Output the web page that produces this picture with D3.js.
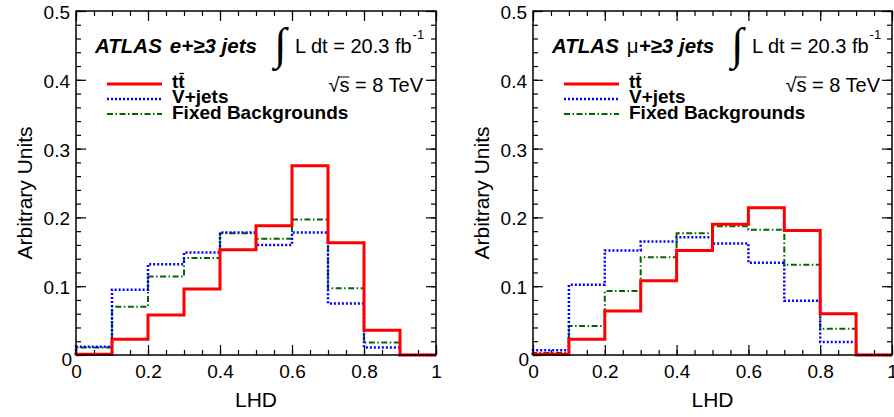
<!DOCTYPE html>
<html>
<head>
<meta charset="utf-8">
<script src="https://cdn.jsdelivr.net/npm/d3@7"></script>
<style>
	body { margin: 0; background: #ffffff; }
	svg { font-family: "Liberation Sans", Arial, Helvetica, sans-serif; }
</style>
</head>
<body>
<div id="container"></div>
<script>

// bin edges of the LHD histograms (10 bins)
var binEdges = [0, 0.1, 0.2, 0.3, 0.4, 0.5, 0.6, 0.7, 0.8, 0.9, 1.0];

// e + >=3 jets channel
var elTtbar = [0.001, 0.023, 0.058, 0.096, 0.153, 0.188, 0.275, 0.163, 0.036, 0.0];
var elVjets = [0.012, 0.095, 0.132, 0.149, 0.178, 0.160, 0.178, 0.075, 0.011, 0.0];
var elFixed = [0.011, 0.070, 0.114, 0.141, 0.177, 0.169, 0.197, 0.097, 0.018, 0.0];

// mu + >=3 jets channel
var muTtbar = [0.001, 0.023, 0.064, 0.108, 0.152, 0.190, 0.214, 0.181, 0.060, 0.0];
var muVjets = [0.007, 0.102, 0.152, 0.165, 0.171, 0.162, 0.134, 0.079, 0.019, 0.0];
var muFixed = [0.003, 0.042, 0.093, 0.142, 0.177, 0.187, 0.182, 0.131, 0.038, 0.0];

// tick labels
var xTickLabels = [0, 0.2, 0.4, 0.6, 0.8, 1];
var yTickLabels = [0, 0.1, 0.2, 0.3, 0.4, 0.5];

var legendNames = ["tt", "V+jets", "Fixed Backgrounds"];

var width = 894;
var height = 417;

var svg = d3.select("#container")
	.append("svg")
	.attr("width", width)
	.attr("height", height);

// draw one panel of the figure
function drawPanel(x0, x1, lepton, ttbar, vjets, fixed) {

	var top = 11;
	var bottom = 355;

	var scaleX = d3.scaleLinear()
		.domain([0, 1])
		.range([x0, x1]);
	var scaleY = d3.scaleLinear()
		.domain([0, 0.5])
		.range([bottom, top]);

	var fmt = d3.format("~g");

	// minor ticks first, major ticks with labels on top
	var minorX = d3.range(0, 1.0001, 0.05);
	var minorY = d3.range(0, 0.5001, 0.02);

	function styleAxis(g) {
		g.select(".domain").remove();
		g.selectAll("line").attr("stroke", "#000").attr("stroke-width", 1.2);
	}

	svg.append("g")
		.attr("transform", "translate(0," + bottom + ")")
		.call(d3.axisBottom(scaleX).tickValues(minorX).tickSizeInner(-5).tickSizeOuter(0).tickFormat(""))
		.call(styleAxis);
	svg.append("g")
		.attr("transform", "translate(0," + top + ")")
		.call(d3.axisTop(scaleX).tickValues(minorX).tickSizeInner(-5).tickSizeOuter(0).tickFormat(""))
		.call(styleAxis);
	svg.append("g")
		.attr("transform", "translate(0," + top + ")")
		.call(d3.axisTop(scaleX).tickValues(xTickLabels).tickSizeInner(-10).tickSizeOuter(0).tickFormat(""))
		.call(styleAxis);
	svg.append("g")
		.attr("transform", "translate(" + x0 + ",0)")
		.call(d3.axisLeft(scaleY).tickValues(minorY).tickSizeInner(-5).tickSizeOuter(0).tickFormat(""))
		.call(styleAxis);
	svg.append("g")
		.attr("transform", "translate(" + x1 + ",0)")
		.call(d3.axisRight(scaleY).tickValues(minorY).tickSizeInner(-5).tickSizeOuter(0).tickFormat(""))
		.call(styleAxis);
	svg.append("g")
		.attr("transform", "translate(" + x1 + ",0)")
		.call(d3.axisRight(scaleY).tickValues(yTickLabels).tickSizeInner(-10).tickSizeOuter(0).tickFormat(""))
		.call(styleAxis);

	// labelled axes
	var xAxis = svg.append("g")
		.attr("transform", "translate(0," + bottom + ")")
		.call(d3.axisBottom(scaleX).tickValues(xTickLabels).tickSizeInner(-10).tickSizeOuter(0).tickPadding(10).tickFormat(fmt))
		.call(styleAxis);
	xAxis.selectAll("text")
		.attr("font-family", null)
		.style("font-size", "19px")
		.attr("fill", "#000");

	var yAxis = svg.append("g")
		.attr("transform", "translate(" + x0 + ",0)")
		.call(d3.axisLeft(scaleY).tickValues(yTickLabels).tickSizeInner(-10).tickSizeOuter(0).tickPadding(6).tickFormat(fmt))
		.call(styleAxis);
	yAxis.selectAll("text")
		.attr("font-family", null)
		.style("font-size", "19px")
		.attr("fill", "#000")
		.attr("dy", "0.39em");
	// the zero label sits a bit lower, like in root
	yAxis.selectAll("text")
		.filter(function(d) { return d == 0; })
		.attr("x", -4)
		.attr("dy", "0.53em");

	// histograms as steps
	function stepPoints(values) {
		var pts = [[binEdges[0], 0]];
		for (var i = 0; i < values.length; i ++) {
			pts.push([binEdges[i], values[i]]);
		};
		pts.push([binEdges[binEdges.length - 1], values[values.length - 1]]);
		pts.push([binEdges[binEdges.length - 1], 0]);
		return pts;
	};

	var line = d3.line()
		.x(function(d) { return scaleX(d[0]); })
		.y(function(d) { return scaleY(d[1]); })
		.curve(d3.curveStepAfter);

	svg.append("path")
		.attr("d", line(stepPoints(fixed)))
		.attr("fill", "none")
		.attr("stroke", "#006600")
		.attr("stroke-width", 2)
		.attr("stroke-dasharray", "6,2.5,1.5,2.5");
	svg.append("path")
		.attr("d", line(stepPoints(vjets)))
		.attr("fill", "none")
		.attr("stroke", "#0000ff")
		.attr("stroke-width", 2.5)
		.attr("stroke-dasharray", "2,2");
	svg.append("path")
		.attr("d", line(stepPoints(ttbar)))
		.attr("fill", "none")
		.attr("stroke", "#ff0000")
		.attr("stroke-width", 3);

	// frame
	svg.append("rect")
		.attr("x", x0)
		.attr("y", top)
		.attr("width", x1 - x0)
		.attr("height", bottom - top)
		.attr("fill", "none")
		.attr("stroke", "#000")
		.attr("stroke-width", 1.5);

	// axis titles
	svg.append("text")
		.attr("x", (x0 + x1) / 2)
		.attr("y", 407)
		.style("text-anchor", "middle")
		.style("font-size", "21px")
		.text("LHD");
	svg.append("text")
		.attr("transform", "translate(" + (x0 - 44) + ",193) rotate(-90)")
		.style("text-anchor", "middle")
		.style("font-size", "21px")
		.text("Arbitrary Units");

	// ATLAS label and channel
	var atlas = svg.append("text")
		.attr("x", x0 + 19)
		.attr("y", 53)
		.style("font-size", "20.5px")
		.style("font-weight", "bold")
		.style("font-style", "italic");
	atlas.append("tspan").text("ATLAS");
	if (lepton == "e") {
		atlas.append("tspan").attr("dx", 8).text("e+≥3 jets");
	}
	else {
		atlas.append("tspan").attr("dx", 8)
			.style("font-weight", "normal").style("font-style", "normal")
			.text("μ");
		atlas.append("tspan").text("+≥3 jets");
	}

	// luminosity
	svg.append("text")
		.attr("x", x0 + 198)
		.attr("y", 59)
		.style("font-family", "'Liberation Serif', serif")
		.style("font-size", "45px")
		.text("∫");
	var lumi = svg.append("text")
		.attr("x", x0 + 219)
		.attr("y", 53)
		.style("font-size", "20px");
	lumi.append("tspan").text("L dt = 20.3 fb");
	lumi.append("tspan").attr("dy", -14).attr("dx", 1).style("font-size", "13px").text("-1");

	// sqrt(s)
	var sqrtText = svg.append("text")
		.attr("x", x0 + 347)
		.attr("y", 92)
		.style("font-size", "20px")
		.style("text-anchor", "end")
		.text("√s = 8 TeV");
	var node = sqrtText.node();
	var totalW = node.getComputedTextLength();
	var rootW = node.getSubStringLength(0, 1);
	var sW = node.getSubStringLength(1, 1);
	var startX = x0 + 347 - totalW;
	svg.append("line")
		.attr("x1", startX + rootW - 1)
		.attr("x2", startX + rootW + sW)
		.attr("y1", 77)
		.attr("y2", 77)
		.attr("stroke", "#000")
		.attr("stroke-width", 1);

	// legend
	var legendY = [84, 99, 114];
	var textY = [88, 103, 119];
	var legendColors = ["#ff0000", "#0000ff", "#006600"];
	var legendDash = [null, "2,2", "6,2.5,1.5,2.5"];
	var legendWidth = [3, 2.5, 2];

	for (var i = 0; i < legendNames.length; i ++) {
		svg.append("line")
			.attr("x1", x0 + 31)
			.attr("x2", x0 + 86)
			.attr("y1", legendY[i])
			.attr("y2", legendY[i])
			.attr("stroke", legendColors[i])
			.attr("stroke-width", legendWidth[i])
			.attr("stroke-dasharray", legendDash[i]);
		var t = svg.append("text")
			.attr("x", x0 + 96)
			.attr("y", textY[i])
			.style("font-size", "19px")
			.style("font-weight", "bold")
			.text(legendNames[i]);
		// bar over the second t of tt
		if (i == 0) {
			var w = t.node().getComputedTextLength();
			svg.append("line")
				.attr("x1", x0 + 96 + w / 2 + 1)
				.attr("x2", x0 + 96 + w - 0.5)
				.attr("y1", textY[i] - 14.5)
				.attr("y2", textY[i] - 14.5)
				.attr("stroke", "#000")
				.attr("stroke-width", 1.3);
		}
	};
};

drawPanel(76, 436, "e", elTtbar, elVjets, elFixed);
drawPanel(533, 892, "mu", muTtbar, muVjets, muFixed);

</script>
</body>
</html>
